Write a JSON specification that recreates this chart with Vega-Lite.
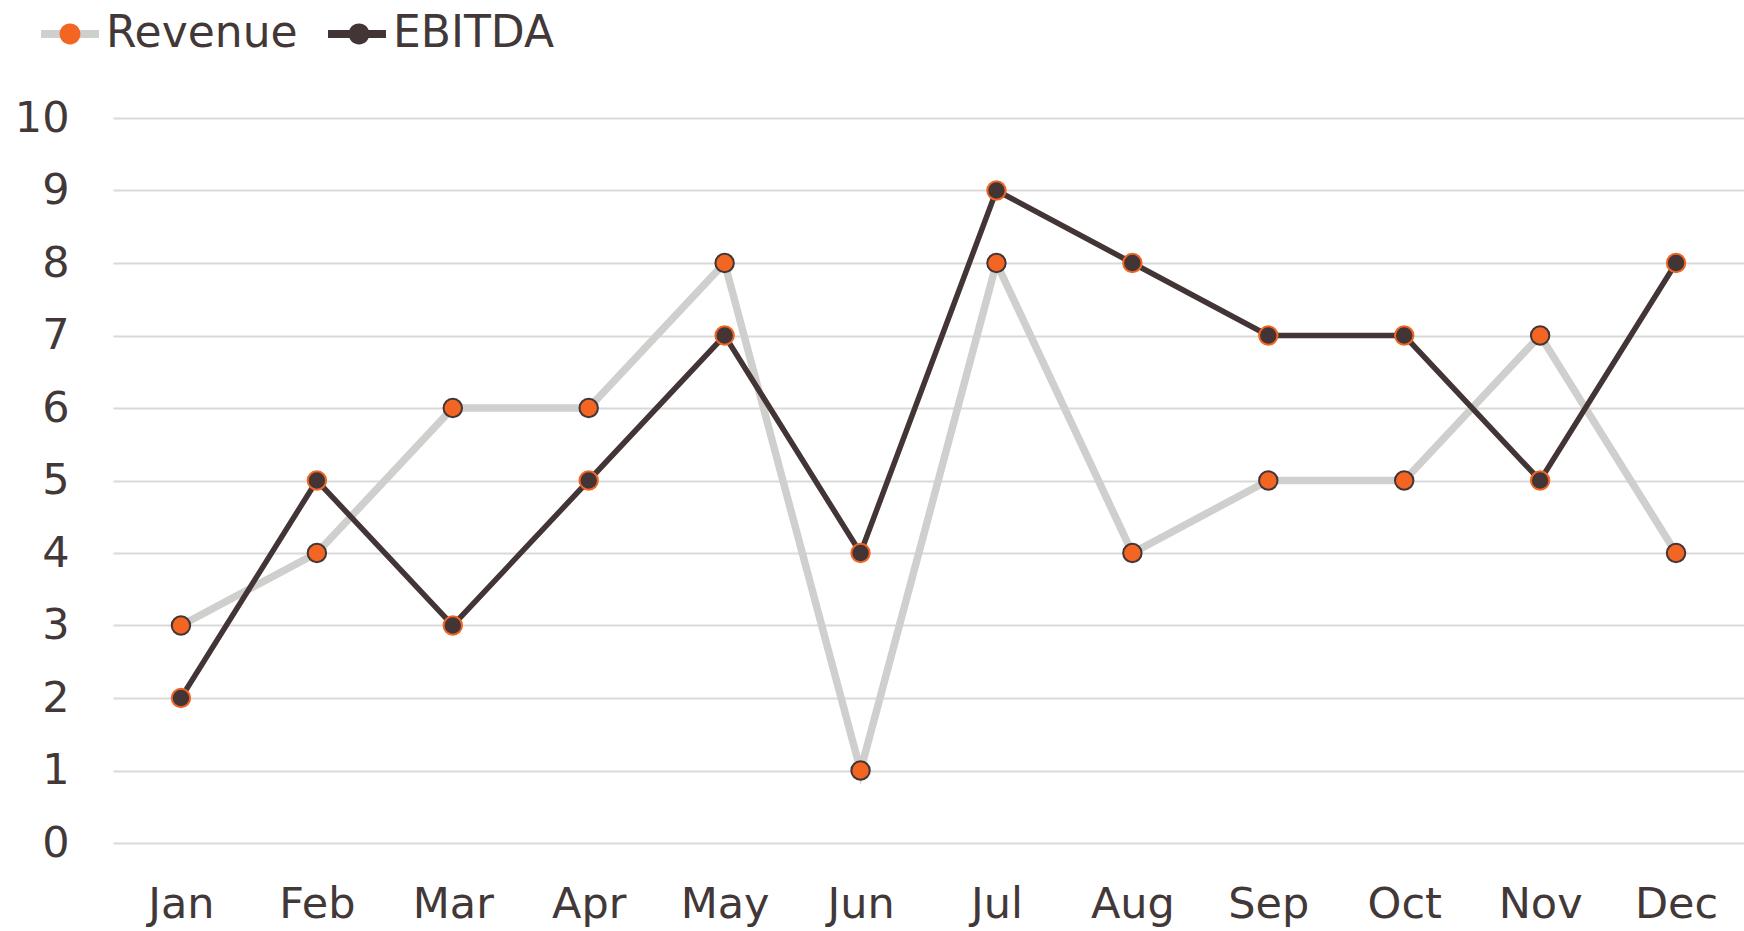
{
  "$schema": "https://vega.github.io/schema/vega-lite/v6.json",
  "width": 1631,
  "height": 725,
  "autosize": "none",
  "padding": {"left": 113, "top": 118, "right": 0, "bottom": 88},
  "background": "white",
  "config": {
    "view": {"stroke": null},
    "font": "DejaVu Sans",
    "axis": {"labelFont": "DejaVu Sans", "labelColor": "#433838", "labelFontSize": 43, "domain": false, "ticks": false, "title": null}
  },
  "data": {
    "values": [
      {"month": "Jan", "series": "Revenue", "value": 3},
      {"month": "Feb", "series": "Revenue", "value": 4},
      {"month": "Mar", "series": "Revenue", "value": 6},
      {"month": "Apr", "series": "Revenue", "value": 6},
      {"month": "May", "series": "Revenue", "value": 8},
      {"month": "Jun", "series": "Revenue", "value": 1},
      {"month": "Jul", "series": "Revenue", "value": 8},
      {"month": "Aug", "series": "Revenue", "value": 4},
      {"month": "Sep", "series": "Revenue", "value": 5},
      {"month": "Oct", "series": "Revenue", "value": 5},
      {"month": "Nov", "series": "Revenue", "value": 7},
      {"month": "Dec", "series": "Revenue", "value": 4},
      {"month": "Jan", "series": "EBITDA", "value": 2},
      {"month": "Feb", "series": "EBITDA", "value": 5},
      {"month": "Mar", "series": "EBITDA", "value": 3},
      {"month": "Apr", "series": "EBITDA", "value": 5},
      {"month": "May", "series": "EBITDA", "value": 7},
      {"month": "Jun", "series": "EBITDA", "value": 4},
      {"month": "Jul", "series": "EBITDA", "value": 9},
      {"month": "Aug", "series": "EBITDA", "value": 8},
      {"month": "Sep", "series": "EBITDA", "value": 7},
      {"month": "Oct", "series": "EBITDA", "value": 7},
      {"month": "Nov", "series": "EBITDA", "value": 5},
      {"month": "Dec", "series": "EBITDA", "value": 8}
    ]
  },
  "transform": [{"calculate": "datum.series", "as": "s2"}],
  "encoding": {
    "x": {
      "field": "month", "type": "ordinal",
      "sort": ["Jan","Feb","Mar","Apr","May","Jun","Jul","Aug","Sep","Oct","Nov","Dec"],
      "scale": {"type": "point", "padding": 0.5},
      "axis": {"labelAngle": 0, "labelPadding": 40, "grid": false}
    },
    "y": {
      "field": "value", "type": "quantitative",
      "scale": {"domain": [0, 10], "nice": false},
      "axis": {"values": [0,1,2,3,4,5,6,7,8,9,10], "labelPadding": 44, "grid": true, "gridColor": "#D9D9D9", "gridWidth": 2, "labelBaseline": "middle"}
    }
  },
  "layer": [
    {
      "transform": [{"filter": "datum.series === 'Revenue'"}],
      "mark": {"type": "line", "strokeWidth": 7.5},
      "encoding": {
        "color": {
          "field": "series", "type": "nominal", "sort": ["Revenue", "EBITDA"],
          "scale": {"domain": ["Revenue", "EBITDA"], "range": ["#CFD0CE", "#433535"]},
          "legend": {
            "orient": "none", "direction": "horizontal", "legendX": -76, "legendY": -117,
            "title": null, "symbolType": "stroke", "symbolSize": 3364, "symbolStrokeWidth": 8,
            "labelFont": "DejaVu Sans", "labelFontSize": 44, "labelColor": "#433838", "labelOffset": 3, "labelLimit": 600,
            "columnPadding": 14, "padding": 0
          }
        }
      }
    },
    {
      "transform": [{"filter": "datum.series === 'EBITDA'"}],
      "mark": {"type": "line", "strokeWidth": 5.5},
      "encoding": {
        "color": {"field": "series", "type": "nominal", "sort": ["Revenue", "EBITDA"]}
      }
    },
    {
      "mark": {"type": "point", "filled": true, "opacity": 1, "size": 340, "strokeWidth": 2},
      "encoding": {
        "fill": {
          "field": "s2", "type": "nominal", "sort": ["Revenue", "EBITDA"],
          "scale": {"range": ["#F26522", "#433535"]},
          "legend": {
            "orient": "none", "direction": "horizontal", "legendX": -76, "legendY": -117,
            "title": null,
            "symbolType": "M -0.36 0 A 0.36 0.36 0 1 0 0.36 0 A 0.36 0.36 0 1 0 -0.36 0 Z",
            "symbolSize": 3364, "symbolStrokeWidth": 8,
            "labelExpr": "'              '",
            "labelFont": "DejaVu Sans", "labelFontSize": 44, "labelOpacity": 0, "labelOffset": 3, "labelLimit": 600,
            "columnPadding": 220, "padding": 0,
            "encode": {
              "symbols": {
                "update": {
                  "fill": {"signal": "datum.value === 'Revenue' ? '#F26522' : '#433535'"},
                  "stroke": {"signal": "datum.value === 'Revenue' ? '#433535' : '#F26522'"},
                  "strokeWidth": {"value": 2},
                  "opacity": {"value": 1}
                }
              }
            }
          }
        },
        "stroke": {
          "field": "s2", "type": "nominal", "sort": ["Revenue", "EBITDA"],
          "scale": {"range": ["#433535", "#F26522"]},
          "legend": null
        }
      }
    }
  ]
}
